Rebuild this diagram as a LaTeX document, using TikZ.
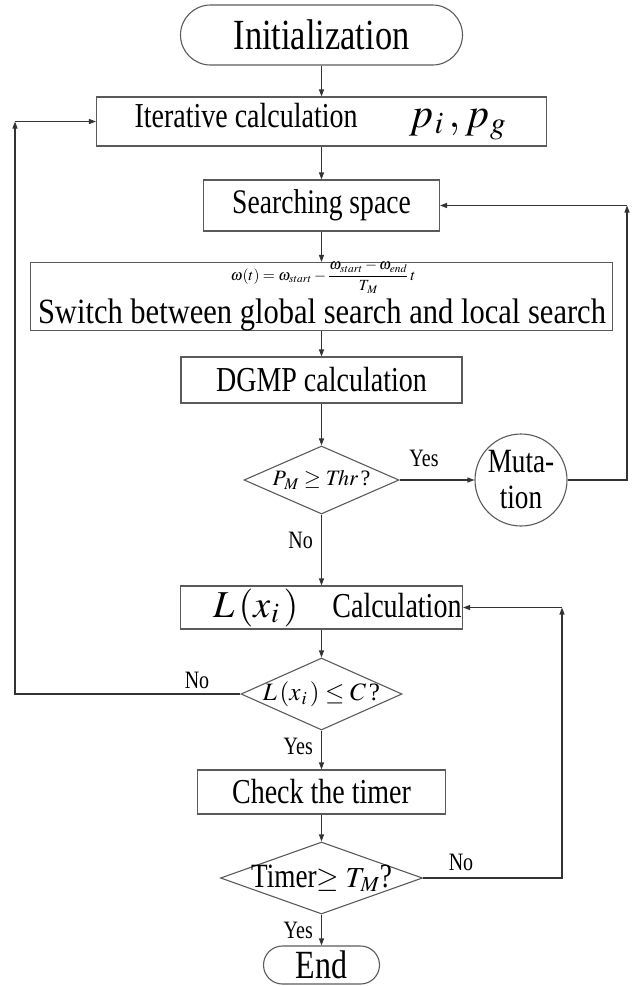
\documentclass[tikz,border=0pt]{standalone}
\usepackage{mathptmx}
\usepackage{fontspec}
\setmainfont{Liberation Serif}
\newfontfamily\nf{Liberation Serif}[FakeStretch=0.8]
\newfontfamily\nfw{Liberation Serif}[FakeStretch=0.86]
\usetikzlibrary{shapes.geometric,arrows.meta}
\newcommand{\fs}[1]{\fontsize{#1}{#1}\selectfont}
\definecolor{lc}{HTML}{333333}
\definecolor{bc}{HTML}{5A5A5A}
\begin{document}
\begin{tikzpicture}[x=1pt,y=-1pt,
  line/.style={draw=lc,line width=1.1pt},
  arr/.style={line,-{Triangle[length=7pt,width=5pt]}},
  box/.style={draw=bc,line width=1.1pt,inner sep=0pt,rectangle},
  term/.style={box,rounded corners=#1},
  dia/.style={draw=bc,line width=1.1pt,inner sep=0pt,diamond},
  circ/.style={draw=bc,line width=1.1pt,inner sep=0pt,circle},
  lab/.style={inner sep=0pt,font=\nf\fs{25}}]
\useasboundingbox (0,0) rectangle (632,986);

% nodes
\node[term=30pt,minimum width=282pt,minimum height=60pt] (init) at (321.5,35) {\nf\fs{43}Initialization};
\node[box,minimum width=450pt,minimum height=49pt] (iter) at (321.5,121.5)
  {\makebox[450pt][l]{\hspace{38pt}{\nf\fs{35}Iterative calculation}\hspace{52pt}{\fs{42}$p_{\kern1pt i}\,,p_{\kern1pt g}$}}};
\node[box,minimum width=236pt,minimum height=51pt] (search) at (321.5,205.5) {\nf\fs{34.5}Searching space};
\node[box,minimum width=582pt,minimum height=68pt] (form) at (321.5,296.5) {};
\node[inner sep=0pt] (eq) at (323,277) {\fs{15.5}$\displaystyle \omega(t)=\omega_{start}-\frac{\omega_{start}-\omega_{end}}{T_{\kern1pt M}}\,t$};
\node[inner sep=0pt,anchor=base] (sw) at (322,323) {\nfw\fs{35.5}Switch between global search and local search};
\node[box,minimum width=281pt,minimum height=46pt] (dgmp) at (321.5,380) {\nf\fs{35}DGMP calculation};
\node[dia,minimum width=155pt,minimum height=68pt] (d1) at (321.5,480) {\makebox[0pt]{\fs{22}$P_{\kern1pt M}\geq \mathit{Thr}\,$?}};
\node[circ,minimum size=92pt] (mut) at (521,480) {};
\node[inner sep=0pt,anchor=base] (mut1) at (521,472) {\nf\fs{34}Muta-};
\node[inner sep=0pt,anchor=base] (mut2) at (521,508) {\nf\fs{34}tion};
\node[box,minimum width=282pt,minimum height=43pt] (lbox) at (321.5,607.5)
  {\makebox[280pt][r]{{\fs{38}$L\,(x_{\kern1pt i}\,)$}\hspace{34pt}{\nf\fs{35}Calculation}}};
\node[dia,minimum width=161pt,minimum height=72pt] (d2) at (321.5,694) {\makebox[0pt]{\fs{25}$L\,(x_{\kern1pt i}\,)\leq C\,$?}};
\node[box,minimum width=248pt,minimum height=44pt] (chk) at (321.5,792) {\nf\fs{35}Check the timer};
\node[dia,minimum width=202pt,minimum height=72pt] (d3) at (321.5,878) {\makebox[0pt]{{\nf\fs{34}Timer}{\fs{29}$\geq T_{\kern1pt M}$}{\nf\fs{34}?}}};
\node[term=19pt,minimum width=116pt,minimum height=38pt] (end) at (321.5,965) {\nf\fs{40}End};

% labels
\node[lab,anchor=east] (lno1) at (313,540) {No};
\node[lab] (lyes1) at (424,458) {Yes};
\node[lab] (lno2) at (197,680) {No};
\node[lab,anchor=east] (lyes2) at (313,746) {Yes};
\node[lab] (lno3) at (461,862) {No};
\node[lab,anchor=east] (lyes3) at (313,930) {Yes};

% corner coordinates
\coordinate (rt) at (627,480);
\coordinate (rtt) at (627,205.5);
\coordinate (lt) at (15,694);
\coordinate (ltt) at (15,121.5);
\coordinate (rb) at (562,878);
\coordinate (rbt) at (562,607.5);

% connectors
\draw[arr] (init) -- (iter);
\draw[arr] (iter) -- (search);
\draw[arr] (search) -- (form);
\draw[arr] (form) -- (dgmp);
\draw[arr] (dgmp) -- (d1);
\draw[arr] (d1) -- (lbox);
\draw[arr] (d1) -- (mut);
\draw[arr] (mut) -- (rt) -- (rtt);
\draw[arr] (rtt) -- (search);
\draw[arr] (lbox) -- (d2);
\draw[arr] (d2) -- (lt) -- (ltt);
\draw[arr] (ltt) -- (iter);
\draw[arr] (d2) -- (chk);
\draw[arr] (chk) -- (d3);
\draw[arr] (d3) -- (end);
\draw[arr] (d3) -- (rb) -- (rbt);
\draw[arr] (rbt) -- (lbox);
\end{tikzpicture}
\end{document}
